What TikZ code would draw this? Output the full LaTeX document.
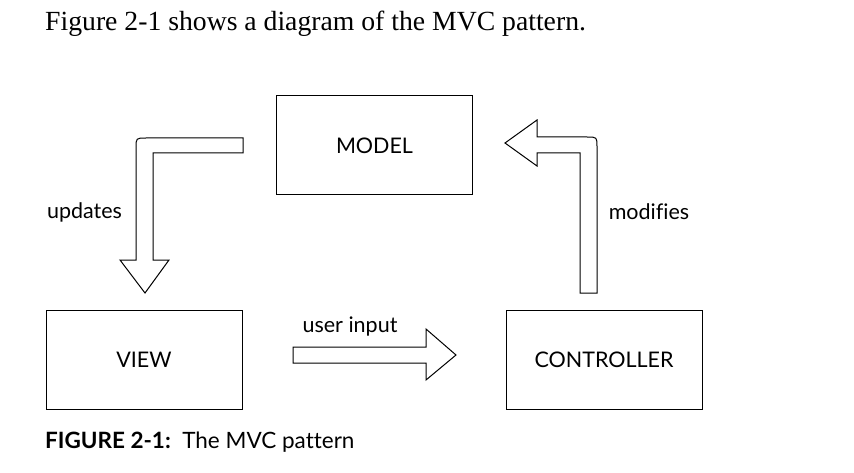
\documentclass[tikz,border=0pt]{standalone}
\usepackage{fontspec}
\setmainfont{Liberation Serif}
\setsansfont{Lato}[Ligatures=NoCommon]
\usetikzlibrary{positioning}

\begin{document}
\begin{tikzpicture}[x=1pt,y=-1pt]

\tikzset{box/.style = {draw, line width=1pt, minimum width=196pt, minimum height=99pt, font=\sffamily\fontsize{21.5}{25}\selectfont}}
\tikzset{lbl/.style = {font=\sffamily\fontsize{21.5}{25}\selectfont, inner sep=0pt}}
\tikzset{blockarrow/.style = {draw, line width=1pt, fill=white, line join=miter}}
\useasboundingbox (0,0) rectangle (854,473);
%text
\node[anchor=base west, inner sep=0pt, font=\fontsize{27.7}{32}\selectfont] (intro) at (45,31) {Figure 2-1 shows a diagram of the MVC pattern.};
%boxes
\node[box] (model) at (374.5,145.5) {MODEL};
\node[box] (view) at (144,359.5) {VIEW};
\node[box] (controller) at (604,359.5) {CONTROLLER};
%labels
\node[lbl] (updates) at (84.5,212) {updates};
\node[lbl] (modifies) at (649,212) {modifies};
\node[lbl] (input) at (350,327) {user input};
%arrows
\draw[blockarrow] (243,138) -- (146,138) .. controls (136,138) .. (136,148) -- (136,260)
  -- (120,260) -- (145,293) -- (169,260) -- (153,260) -- (153,153) -- (243,153) -- cycle;
\draw[blockarrow] (597,293) -- (597,147) .. controls (597,137) .. (587,137) -- (537,137)
  -- (537,120) -- (505,143) -- (537,166) -- (537,153) -- (580,153) -- (580,293) -- cycle;
\draw[blockarrow] (293,347) -- (426,347) -- (426,329) -- (456,355) -- (426,380)
  -- (426,363) -- (293,363) -- cycle;
%caption
\node[anchor=base west, inner sep=0pt, font=\sffamily\fontsize{22.5}{26}\selectfont] (caption) at (45,448) {\textbf{FIGURE 2-1:}\ \ The MVC pattern};

\end{tikzpicture}
\end{document}
